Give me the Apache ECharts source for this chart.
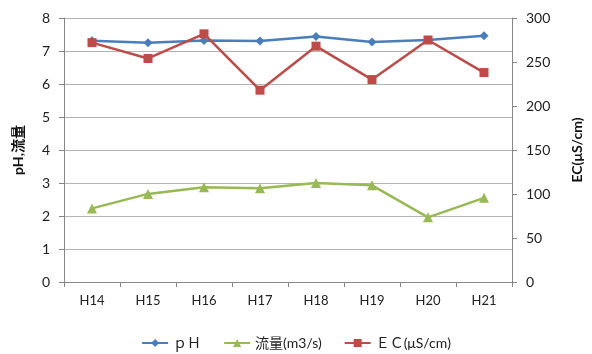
<!DOCTYPE html>
<html>
<head>
<meta charset="utf-8">
<script src="https://cdn.jsdelivr.net/npm/echarts@6/dist/echarts.min.js"></script>
<style>
html,body{margin:0;padding:0;background:#fff;}
#chart{width:592px;height:354px;}
</style>
</head>
<body>
<div id="chart"></div>
<script>
// Station categories and measured series
var categories = ['H14', 'H15', 'H16', 'H17', 'H18', 'H19', 'H20', 'H21'];
var phValues = [7.31, 7.25, 7.32, 7.30, 7.44, 7.27, 7.33, 7.46];
var flowValues = [2.23, 2.67, 2.87, 2.84, 3.00, 2.93, 1.96, 2.55];
var ecValues = [272, 254, 282, 218, 268, 230, 275, 238];

var leftTicks = [0, 8, 1];    // min, max, interval
var rightTicks = [0, 300, 50];

var font = 'Lato, "Noto Sans CJK JP", sans-serif';
var chart = echarts.init(document.getElementById('chart'));

var axisGray = '#868686';
chart.setOption({
  animation: false,
  grid: {left: 64, right: 79, top: 18, bottom: 72},
  legend: {
    bottom: -1,
    left: 'center',
    itemWidth: 26,
    itemHeight: 10,
    itemGap: 22,
    textStyle: {fontFamily: font, fontSize: 14, color: '#222'},
    data: ['ｐＨ', '流量(m3/s)', 'ＥＣ(μS/cm)']
  },
  xAxis: {
    type: 'category',
    data: categories,
    boundaryGap: true,
    axisLine: {lineStyle: {color: axisGray}},
    axisTick: {show: true, length: 5, lineStyle: {color: axisGray}},
    axisLabel: {fontFamily: font, fontSize: 13, color: '#222', margin: 12}
  },
  yAxis: [
    {
      type: 'value',
      min: leftTicks[0], max: leftTicks[1], interval: leftTicks[2],
      name: 'pH,流量',
      nameLocation: 'middle',
      nameGap: 39,
      nameRotate: 90,
      nameTextStyle: {fontFamily: font, fontSize: 14, fontWeight: 'bold', color: '#111'},
      axisLine: {show: true, lineStyle: {color: axisGray}},
      axisTick: {show: true, length: 5, lineStyle: {color: axisGray}},
      axisLabel: {fontFamily: font, fontSize: 14, color: '#222', margin: 14},
      splitLine: {lineStyle: {color: '#b4b4b4', width: 1}}
    },
    {
      type: 'value',
      min: rightTicks[0], max: rightTicks[1], interval: rightTicks[2],
      name: 'EC(μS/cm)',
      nameLocation: 'middle',
      nameGap: 58,
      nameRotate: 90,
      nameTextStyle: {fontFamily: font, fontSize: 14, fontWeight: 'bold', color: '#111'},
      axisLine: {show: true, lineStyle: {color: axisGray}},
      axisTick: {show: true, length: 5, lineStyle: {color: axisGray}},
      axisLabel: {fontFamily: font, fontSize: 14, color: '#222', margin: 14},
      splitLine: {show: false}
    }
  ],
  series: [
    {
      name: 'ｐＨ', type: 'line', yAxisIndex: 0, data: phValues,
      symbol: 'diamond', symbolSize: 9,
      itemStyle: {color: '#4a7ebb'},
      lineStyle: {color: '#4a7ebb', width: 2.5}
    },
    {
      name: '流量(m3/s)', type: 'line', yAxisIndex: 0, data: flowValues,
      symbol: 'triangle', symbolSize: 10,
      itemStyle: {color: '#98b954'},
      lineStyle: {color: '#98b954', width: 2.5}
    },
    {
      name: 'ＥＣ(μS/cm)', type: 'line', yAxisIndex: 1, data: ecValues,
      symbol: 'rect', symbolSize: 9,
      itemStyle: {color: '#be4b48'},
      lineStyle: {color: '#be4b48', width: 2.5}
    }
  ]
});
</script>
</body>
</html>
